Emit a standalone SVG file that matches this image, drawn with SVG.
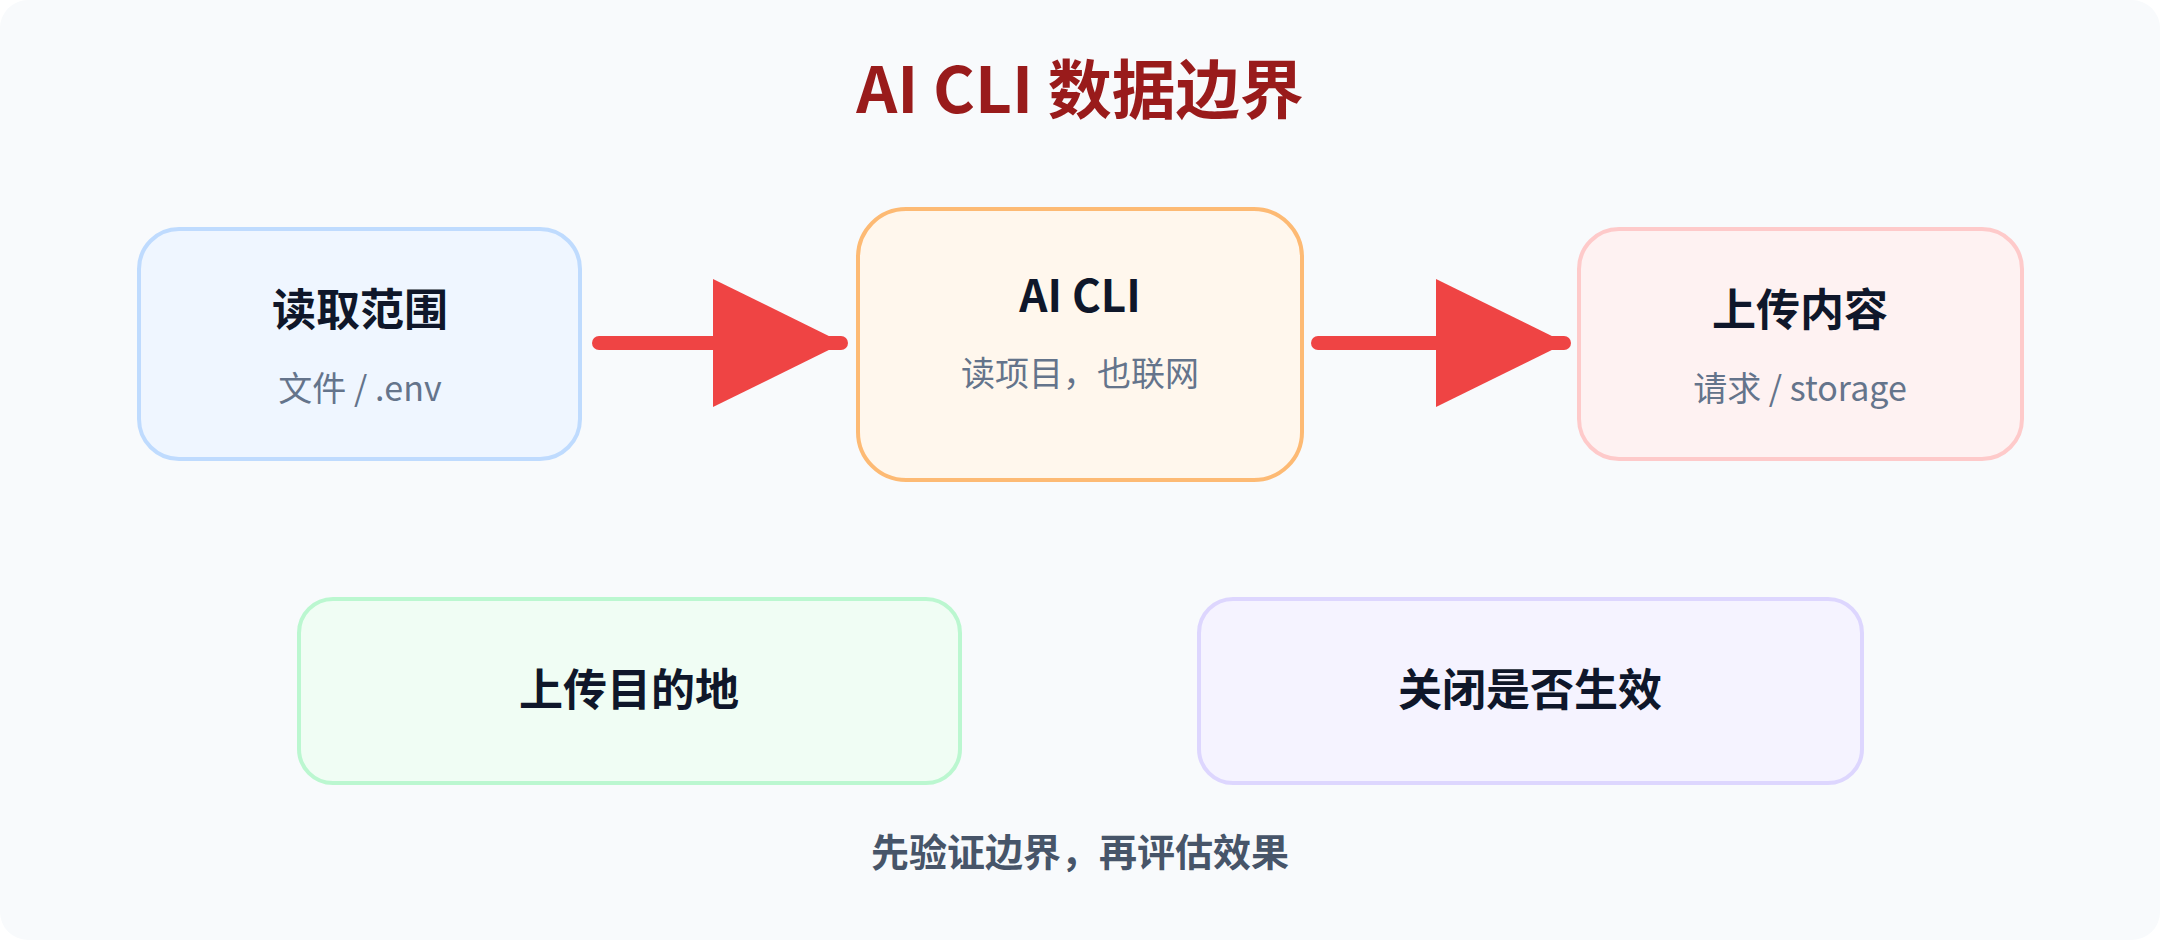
<svg xmlns="http://www.w3.org/2000/svg" width="2160" height="940" viewBox="0 0 2160 940">
<style>
text{font-family:"Noto Sans CJK SC","Noto Sans",sans-serif;text-anchor:middle}
.t{font-size:44px;font-weight:700;fill:#0f172a}
.s{font-size:34px;fill:#64748b}
.e{stroke-width:4}
.c{stroke:#ef4444;stroke-width:14;stroke-linecap:round;fill:none}
</style>
<defs>
<marker id="ah" markerUnits="userSpaceOnUse" markerWidth="130" markerHeight="130" refX="128" refY="64" orient="auto" viewBox="0 0 130 130">
<path d="M0,0 L130,64 L0,128 z" fill="#ef4444"/>
</marker>
</defs>
<rect x="0" y="0" width="2160" height="940" rx="28" fill="#f8fafc"/>
<text x="1080" y="113" style="font-size:64px;font-weight:700;fill:#991b1b">AI CLI 数据边界</text>
<g id="connectors">
<line class="c" x1="599" y1="343" x2="841" y2="343" marker-end="url(#ah)"/>
<line class="c" x1="1318" y1="343" x2="1564" y2="343" marker-end="url(#ah)"/>
</g>
<g id="n1"><rect class="e" x="139" y="229" width="441" height="230" rx="40" fill="#eff6ff" stroke="#bfdbfe"/>
<text class="t" x="360" y="326">读取范围</text><text class="s" x="360" y="401">文件 / .env</text></g>
<g id="n2"><rect class="e" x="858" y="209" width="444" height="271" rx="48" fill="#fff7ed" stroke="#fdba74"/>
<text class="t" x="1080" y="312">AI CLI</text><text class="s" x="1080" y="386">读项目，也联网</text></g>
<g id="n3"><rect class="e" x="1579" y="229" width="443" height="230" rx="40" fill="#fef2f2" stroke="#fecaca"/>
<text class="t" x="1800" y="326">上传内容</text><text class="s" x="1800" y="401">请求 / storage</text></g>
<g id="n4"><rect class="e" x="299" y="599" width="661" height="184" rx="34" fill="#f0fdf4" stroke="#bbf7d0"/>
<text class="t" x="629" y="706">上传目的地</text></g>
<g id="n5"><rect class="e" x="1199" y="599" width="663" height="184" rx="34" fill="#f5f3ff" stroke="#ddd6fe"/>
<text class="t" x="1530" y="706">关闭是否生效</text></g>
<text x="1080" y="866" style="font-size:38px;font-weight:700;fill:#475569">先验证边界，再评估效果</text>
</svg>
